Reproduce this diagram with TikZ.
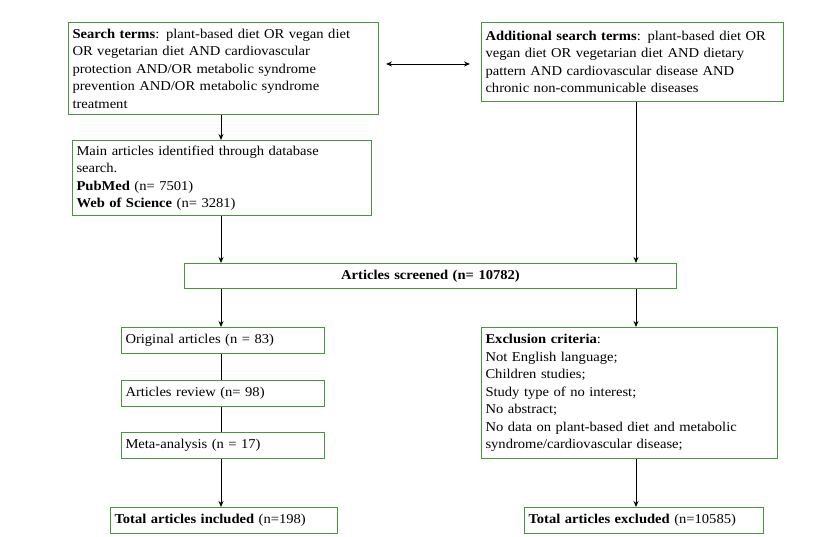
\documentclass[tikz,border=0pt]{standalone}
\usepackage{fontspec}
\setmainfont{Liberation Serif}[FakeStretch=1.08]
\usetikzlibrary{arrows.meta}
\definecolor{bgreen}{RGB}{70,150,60}
\begin{document}
\begin{tikzpicture}[x=1pt,y=-1pt,
  box/.style={draw=bgreen,line width=1pt,anchor=north west,align=left,inner xsep=4pt,inner ysep=5pt,font=\fontsize{13.5}{17.5}\selectfont},
  arr/.style={-{Stealth[length=6pt,width=5pt]},line width=0.9pt},
  ln/.style={line width=0.9pt}]
\useasboundingbox (0,0) rectangle (839,537);
\node[box,minimum width=310,minimum height=92,text width=302] (b1) at (68,22) {\textbf{Search terms}: plant-based diet OR vegan diet\\OR vegetarian diet AND cardiovascular\\protection AND/OR metabolic syndrome\\prevention AND/OR metabolic syndrome\\treatment};
\node[box,minimum width=302,minimum height=79,text width=294] (b2) at (481,22) {\textbf{Additional search terms}: plant-based diet OR\\vegan diet OR vegetarian diet AND dietary\\pattern AND cardiovascular disease AND\\chronic non-communicable diseases};
\node[box,minimum width=299,minimum height=74,text width=291] (b3) at (72,140) {Main articles identified through database\\search.\\\textbf{PubMed} (n= 7501)\\\textbf{Web of Science} (n= 3281)};
\node[box,minimum width=492,minimum height=25,text width=484,align=center] (b4) at (184,263) {\textbf{Articles screened (n= 10782)}};
\node[box,minimum width=203,minimum height=26,text width=195] (b5) at (121,327) {Original articles (n = 83)};
\node[box,minimum width=203,minimum height=26,text width=195] (b6) at (121,380) {Articles review (n= 98)};
\node[box,minimum width=203,minimum height=26,text width=195] (b7) at (121,432) {Meta-analysis (n = 17)};
\node[box,minimum width=296,minimum height=131,text width=288] (b8) at (481,327) {\textbf{Exclusion criteria}:\\Not English language;\\Children studies;\\Study type of no interest;\\No abstract;\\No data on plant-based diet and metabolic\\syndrome/cardiovascular disease;};
\node[box,minimum width=227,minimum height=26,text width=219] (b9) at (110,507) {\textbf{Total articles included} (n=198)};
\node[box,minimum width=239,minimum height=26,text width=231] (b10) at (524,507) {\textbf{Total articles excluded} (n=10585)};
\draw[arr,{Stealth[length=6pt,width=5pt]}-{Stealth[length=6pt,width=5pt]}] (386,64) -- (470,64);
\draw[arr] (b1.south -| 221,0) -- (b3.north -| 221,0);
\draw[arr] (b3.south -| 221,0) -- (b4.north -| 221,0);
\draw[arr] (b2.south -| 636,0) -- (b4.north -| 636,0);
\draw[arr] (b4.south -| 221,0) -- (b5.north -| 221,0);
\draw[arr] (b4.south -| 636,0) -- (b8.north -| 636,0);
\draw[ln] (b5.south -| 221,0) -- (b6.north -| 221,0);
\draw[ln] (b6.south -| 221,0) -- (b7.north -| 221,0);
\draw[arr] (b7.south -| 221,0) -- (b9.north -| 221,0);
\draw[arr] (b8.south -| 636,0) -- (b10.north -| 636,0);
\end{tikzpicture}
\end{document}
